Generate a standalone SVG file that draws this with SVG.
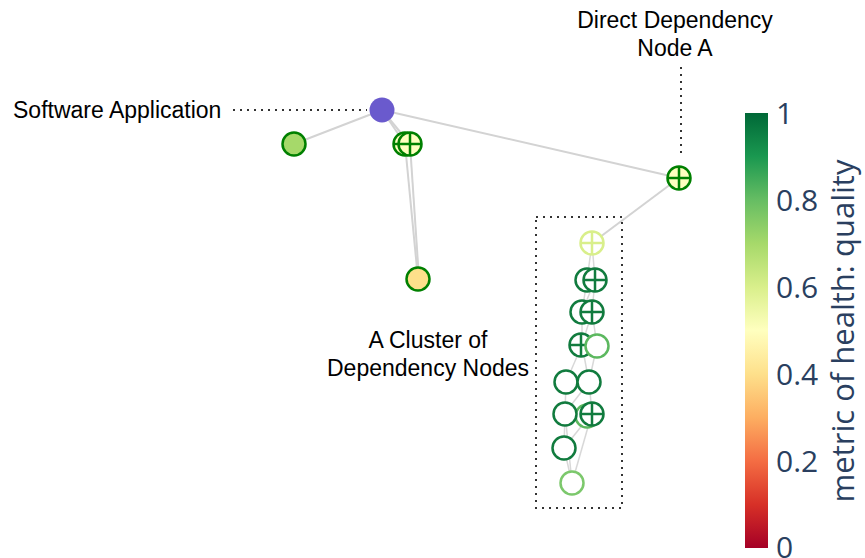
<svg xmlns="http://www.w3.org/2000/svg" width="865" height="558" viewBox="0 0 865 558">
<defs>
<linearGradient id="rdylgn" x1="0" y1="1" x2="0" y2="0">
<stop offset="0" stop-color="#a50026"/>
<stop offset="0.1" stop-color="#d73027"/>
<stop offset="0.2" stop-color="#f46d43"/>
<stop offset="0.3" stop-color="#fdae61"/>
<stop offset="0.4" stop-color="#fee08b"/>
<stop offset="0.5" stop-color="#ffffbf"/>
<stop offset="0.6" stop-color="#d9ef8b"/>
<stop offset="0.7" stop-color="#a6d96a"/>
<stop offset="0.8" stop-color="#66bd63"/>
<stop offset="0.9" stop-color="#1a9850"/>
<stop offset="1" stop-color="#006837"/>
</linearGradient>
<style>
.edge{stroke:#d3d3d3;stroke-width:2;fill:none}
.edge2{stroke:#d8d8d8;stroke-width:1.5;fill:none}
.dot{stroke:#333;stroke-width:2;stroke-dasharray:2 5;fill:none}
.lbl{font-family:"Liberation Sans",Arial,sans-serif;font-size:23px;fill:#000}
.tick{font-family:"Open Sans","DejaVu Sans",sans-serif;font-size:30px;fill:#2a3f5f}
.ttl{font-family:"Open Sans","DejaVu Sans",sans-serif;font-size:31px;fill:#2a3f5f}
.solid{stroke:#008000;stroke-width:2.5}
.open{fill:#fff;stroke-width:2.5}
.dk{stroke:#117b3e}
.lg{stroke:#5cb85f}
.lg2{stroke:#7cc86c}
.pl{stroke:#d9ef8b}
</style>
</defs>
<rect width="865" height="558" fill="#fff"/>
<g id="connectors">
<line class="edge" x1="382" y1="110" x2="294" y2="144"/>
<line class="edge" x1="382" y1="110" x2="405" y2="144"/>
<line class="edge" x1="382" y1="110" x2="410" y2="144"/>
<line class="edge" x1="382" y1="110" x2="679" y2="178"/>
<line class="edge" x1="405" y1="144" x2="418" y2="279"/>
<line class="edge" x1="410" y1="144" x2="419" y2="279"/>
<line class="edge" x1="679" y1="178" x2="592" y2="243"/>
<line class="edge2" x1="592" y1="243" x2="587" y2="280"/>
<line class="edge2" x1="592" y1="243" x2="595" y2="280"/>
<line class="edge2" x1="587" y1="280" x2="582" y2="312"/>
<line class="edge2" x1="595" y1="280" x2="592" y2="312"/>
<line class="edge2" x1="595" y1="280" x2="582" y2="312"/>
<line class="edge2" x1="582" y1="312" x2="582" y2="345"/>
<line class="edge2" x1="592" y1="312" x2="582" y2="345"/>
<line class="edge2" x1="592" y1="312" x2="597" y2="345"/>
<line class="edge2" x1="582" y1="345" x2="566" y2="382"/>
<line class="edge2" x1="582" y1="345" x2="589" y2="382"/>
<line class="edge2" x1="597" y1="345" x2="589" y2="382"/>
<line class="edge2" x1="566" y1="382" x2="565" y2="413"/>
<line class="edge2" x1="589" y1="382" x2="565" y2="413"/>
<line class="edge2" x1="589" y1="382" x2="592" y2="413"/>
<line class="edge2" x1="565" y1="413" x2="564" y2="448"/>
<line class="edge2" x1="592" y1="413" x2="564" y2="448"/>
<line class="edge2" x1="564" y1="448" x2="572" y2="483"/>
<line class="edge2" x1="565" y1="413" x2="572" y2="483"/>
<line class="edge2" x1="592" y1="413" x2="572" y2="483"/>
</g>
<g id="annotations">
<line class="dot" x1="233" y1="110" x2="367" y2="110"/>
<line class="dot" x1="681" y1="67" x2="681" y2="155"/>
<rect class="dot" x="536" y="217" width="86" height="291"/>
<text class="lbl" x="13" y="118">Software Application</text>
<text class="lbl" x="675" y="28" text-anchor="middle">Direct Dependency</text>
<text class="lbl" x="675" y="56" text-anchor="middle">Node A</text>
<text class="lbl" x="428" y="348" text-anchor="middle">A Cluster of</text>
<text class="lbl" x="428" y="376" text-anchor="middle">Dependency Nodes</text>
</g>
<g id="node-app"><circle cx="382" cy="110" r="12.5" fill="#6a5acd"/></g>
<g id="node-b"><circle class="solid" cx="294" cy="144" r="11.5" fill="#a6d96a"/></g>
<g id="node-c1"><circle class="solid" cx="405" cy="144" r="11.5" fill="#ffffbf"/><path class="solid" d="M393.5 144h23M405 132.5v23"/></g>
<g id="node-c2"><circle class="solid" cx="410" cy="144" r="11.5" fill="#ffffbf"/><path class="solid" d="M398.5 144h23M410 132.5v23"/></g>
<g id="node-d"><circle class="solid" cx="418" cy="279" r="11.5" fill="#fee08b"/></g>
<g id="node-a"><circle class="solid" cx="679" cy="178" r="11.5" fill="#ffffbf"/><path class="solid" d="M667.5 178h23M679 166.5v23"/></g>
<g id="cluster">
<g id="n1"><circle class="open pl" cx="592" cy="243" r="11.5"/><path class="open pl" d="M580.5 243h23M592 231.5v23"/></g>
<g id="n2"><circle class="open dk" cx="587" cy="280" r="11.5"/></g>
<g id="n3"><circle class="open dk" cx="595" cy="280" r="11.5"/><path class="open dk" d="M583.5 280h23M595 268.5v23"/></g>
<g id="n4"><circle class="open dk" cx="582" cy="312" r="11.5"/></g>
<g id="n5"><circle class="open dk" cx="592" cy="312" r="11.5"/><path class="open dk" d="M580.5 312h23M592 300.5v23"/></g>
<g id="n6"><circle class="open dk" cx="581" cy="345" r="11.5"/><path class="open dk" d="M569.5 345h23M581 333.5v23"/></g>
<g id="n7"><circle class="open lg" cx="597" cy="346" r="11.5"/></g>
<g id="n8"><circle class="open dk" cx="566" cy="382" r="11.5"/></g>
<g id="n9"><circle class="open dk" cx="589" cy="382" r="11.5"/></g>
<g id="n10"><circle class="open lg" cx="587" cy="416" r="11.5"/></g>
<g id="n11"><circle class="open dk" cx="565" cy="414" r="11.5"/></g>
<g id="n12"><circle class="open dk" cx="592" cy="414" r="11.5"/><path class="open dk" d="M580.5 414h23M592 402.5v23"/></g>
<g id="n13"><circle class="open dk" cx="564" cy="448" r="11.5"/></g>
<g id="n14"><circle class="open lg2" cx="572" cy="483" r="11.5"/></g>
</g>
<g id="colorbar">
<rect x="745" y="113" width="23" height="435" fill="url(#rdylgn)"/>
<text class="tick" x="776" y="124">1</text>
<text class="tick" x="776" y="211">0.8</text>
<text class="tick" x="776" y="298">0.6</text>
<text class="tick" x="776" y="385">0.4</text>
<text class="tick" x="776" y="472">0.2</text>
<text class="tick" x="776" y="558">0</text>
<text class="ttl" transform="translate(854,331) rotate(-90)" text-anchor="middle">metric of health: quality</text>
</g>
</svg>
